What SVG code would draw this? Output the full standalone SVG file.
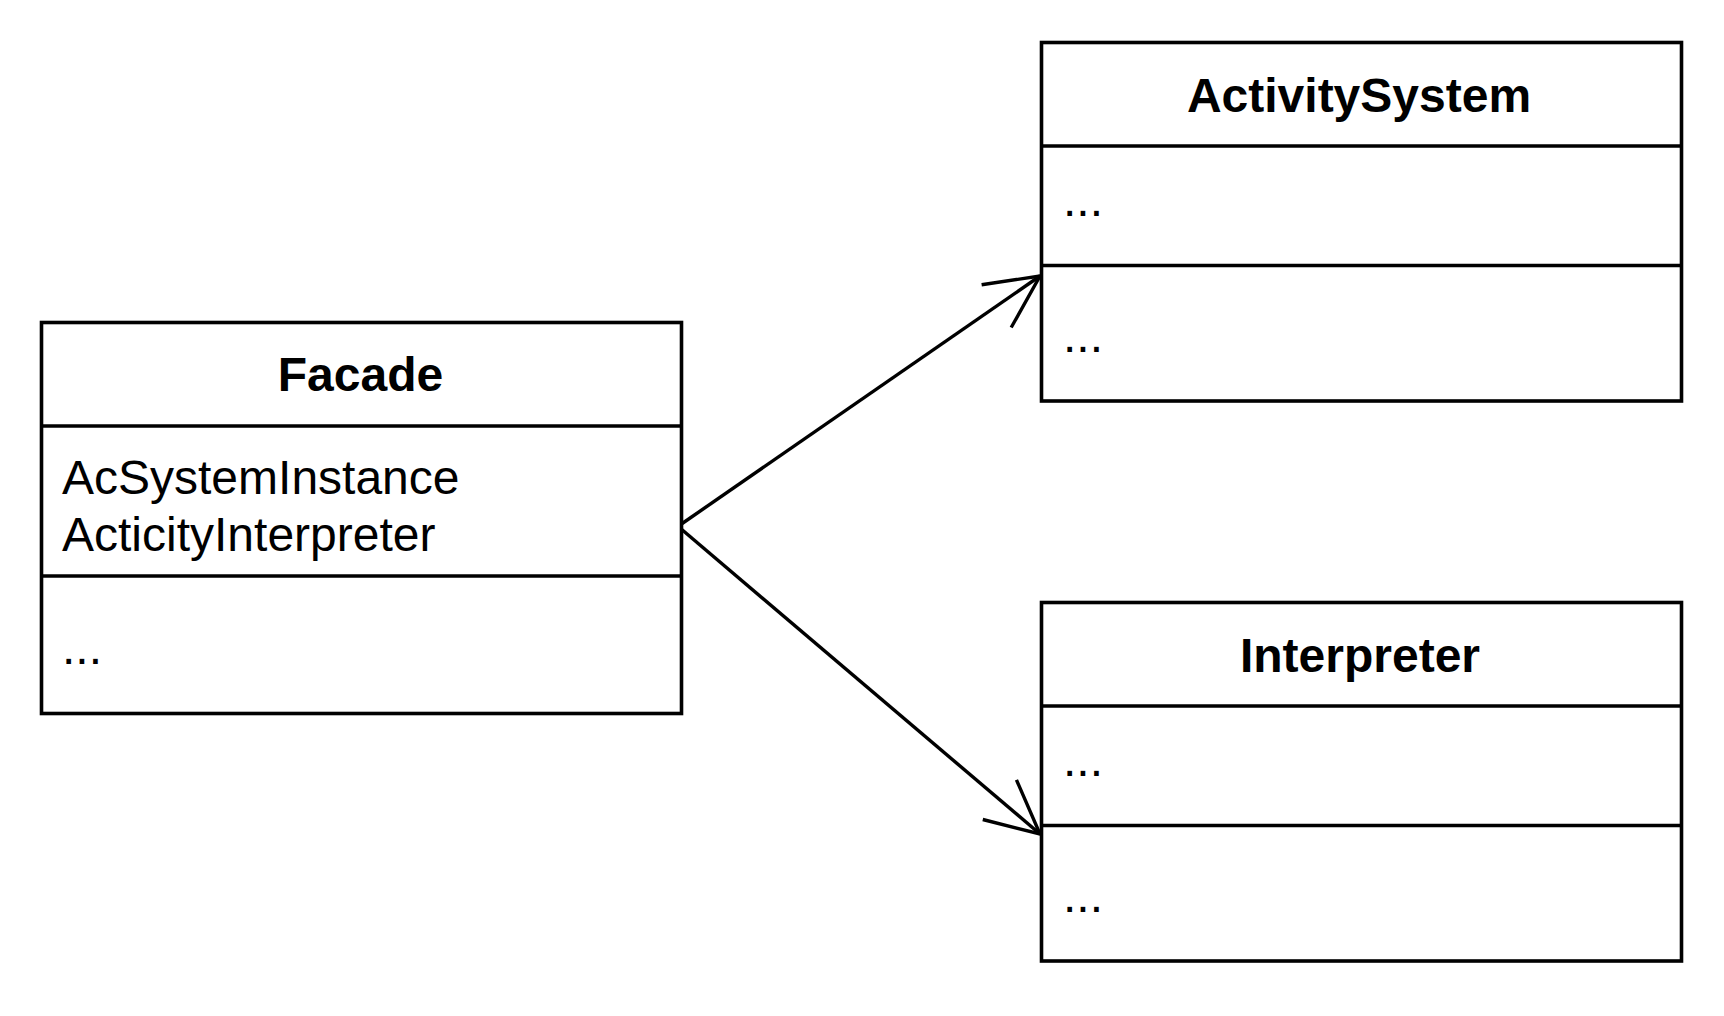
<svg xmlns="http://www.w3.org/2000/svg" width="1724" height="1016" viewBox="0 0 1724 1016">
<style>
.box{fill:#fff;stroke:#000;stroke-width:3.6}
.div{stroke:#000;stroke-width:3.6}
.title{font-family:"Liberation Sans",Arial,sans-serif;font-weight:bold;font-size:48px;text-anchor:middle;fill:#000}
.txt{font-family:"Liberation Sans",Arial,sans-serif;font-size:48px;fill:#000}
.conn{fill:none;stroke:#000;stroke-width:3.4}
</style>
<defs>
<marker id="open" markerUnits="userSpaceOnUse" markerWidth="120" markerHeight="120" refX="0" refY="0" viewBox="-60 -60 120 120" orient="auto" overflow="visible">
<path d="M-53,-26 L0,0 L-53,26" fill="none" stroke="#000" stroke-width="3.4"/>
</marker>
</defs>
<rect width="1724" height="1016" fill="#fff"/>
<g id="connectors">
<line class="conn" x1="680" y1="525" x2="1040" y2="276" marker-end="url(#open)"/>
<line class="conn" x1="680" y1="528" x2="1040" y2="834" marker-end="url(#open)"/>
</g>
<g id="facade">
<rect class="box" x="41.5" y="322.5" width="640" height="391"/>
<line class="div" x1="41.5" y1="426" x2="681.5" y2="426"/>
<line class="div" x1="41.5" y1="576" x2="681.5" y2="576"/>
<text class="title" x="360.5" y="391">Facade</text>
<text class="txt" x="62" y="494">AcSystemInstance</text>
<text class="txt" x="62" y="551">ActicityInterpreter</text>
<text class="txt" x="62" y="664">...</text>
</g>
<g id="activitysystem">
<rect class="box" x="1041.5" y="42.5" width="640" height="358.5"/>
<line class="div" x1="1041.5" y1="146" x2="1681.5" y2="146"/>
<line class="div" x1="1041.5" y1="265.5" x2="1681.5" y2="265.5"/>
<text class="title" x="1359" y="111.5">ActivitySystem</text>
<text class="txt" x="1063" y="216">...</text>
<text class="txt" x="1063" y="351.5">...</text>
</g>
<g id="interpreter">
<rect class="box" x="1041.5" y="602.5" width="640" height="358.5"/>
<line class="div" x1="1041.5" y1="706" x2="1681.5" y2="706"/>
<line class="div" x1="1041.5" y1="825.5" x2="1681.5" y2="825.5"/>
<text class="title" x="1360" y="671.5">Interpreter</text>
<text class="txt" x="1063" y="776">...</text>
<text class="txt" x="1063" y="911.5">...</text>
</g>
</svg>
